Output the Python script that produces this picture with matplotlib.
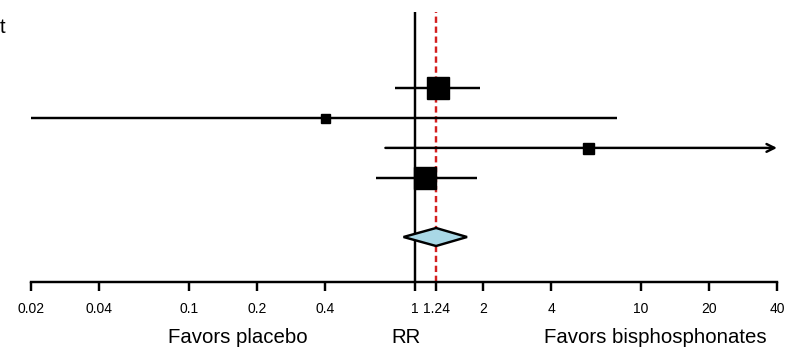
import matplotlib
matplotlib.use("Agg")
import matplotlib.pyplot as plt
from matplotlib.patches import Polygon

plt.rcParams['font.family'] = ['Liberation Sans', 'DejaVu Sans']

# Data (risk ratios with 95% CI)
rr = [1.26, 0.40, 5.83, 1.11]
ci_low = [0.82, 0.02, 0.74, 0.67]
ci_high = [1.94, 7.83, 40.0, 1.88]
arrow_right = [False, False, True, False]
marker_px = [22, 9, 11, 22]          # relative weights shown as square size
pooled_rr = 1.24
pooled_low = 0.89
pooled_high = 1.70
tick_vals = [0.02, 0.04, 0.1, 0.2, 0.4, 1, 1.24, 2, 4, 10, 20, 40]
tick_labels = ["0.02", "0.04", "0.1", "0.2", "0.4", "1", "1.24", "2", "4", "10", "20", "40"]

row_y = [6.47, 5.47, 4.47, 3.47]
pooled_y = 1.5

W, H = 785, 348
fig = plt.figure(figsize=(W / 100, H / 100), dpi=100)
ax = fig.add_axes([31 / W, 66 / H, 746 / W, 270 / H])
ax.set_xscale('log')
ax.set_xlim(0.02, 40)
ax.set_ylim(0, 9)

lw = 1.75
# reference lines
ax.axvline(1, color='black', lw=lw, zorder=2)
ax.axvline(pooled_rr, color='#d42020', lw=1.75, ls=(0, (2.6, 1.5)), zorder=2.5)

for y, m, lo, hi, arr, s in zip(row_y, rr, ci_low, ci_high, arrow_right, marker_px):
    if arr:
        ax.annotate('', xy=(hi, y), xytext=(lo, y),
                    arrowprops=dict(arrowstyle='->', lw=lw, color='black',
                                    mutation_scale=14, shrinkA=0, shrinkB=0),
                    annotation_clip=False, zorder=3)
    else:
        ax.plot([lo, hi], [y, y], color='black', lw=lw, zorder=3, clip_on=False,
                solid_capstyle='butt')
    ax.plot([m], [y], marker='s', color='black', markersize=s * 0.72, zorder=4,
            linestyle='none')

# pooled diamond
dh = 0.3
diamond = Polygon([[pooled_low, pooled_y], [pooled_rr, pooled_y + dh],
                   [pooled_high, pooled_y], [pooled_rr, pooled_y - dh]],
                  closed=True, facecolor='#a9d8e6', edgecolor='black', lw=lw, zorder=4)
ax.add_patch(diamond)

for sp in ['top', 'right', 'left']:
    ax.spines[sp].set_visible(False)
ax.spines['bottom'].set_linewidth(lw)
ax.set_yticks([])
ax.set_xticks(tick_vals)
ax.set_xticklabels(tick_labels)
ax.xaxis.set_minor_locator(matplotlib.ticker.FixedLocator([0.02, 40]))
ax.xaxis.set_minor_formatter(matplotlib.ticker.NullFormatter())
ax.tick_params(axis='x', which='major', direction='out', length=6.5, width=lw, labelsize=10, pad=8)
ax.tick_params(axis='x', which='minor', direction='out', length=10.5, width=lw)

fig.text(238 / W, 1 - 343 / H, "Favors placebo", fontsize=14.7, ha='center', va='baseline')
fig.text(406 / W, 1 - 343 / H, "RR", fontsize=14.7, ha='center', va='baseline')
fig.text(655 / W, 1 - 343 / H, "Favors bisphosphonates", fontsize=14.7, ha='center', va='baseline')
fig.text(0 / W, 1 - 33 / H, "t", fontsize=14.7, ha='left', va='baseline')

fig.savefig("out.png", dpi=100)
